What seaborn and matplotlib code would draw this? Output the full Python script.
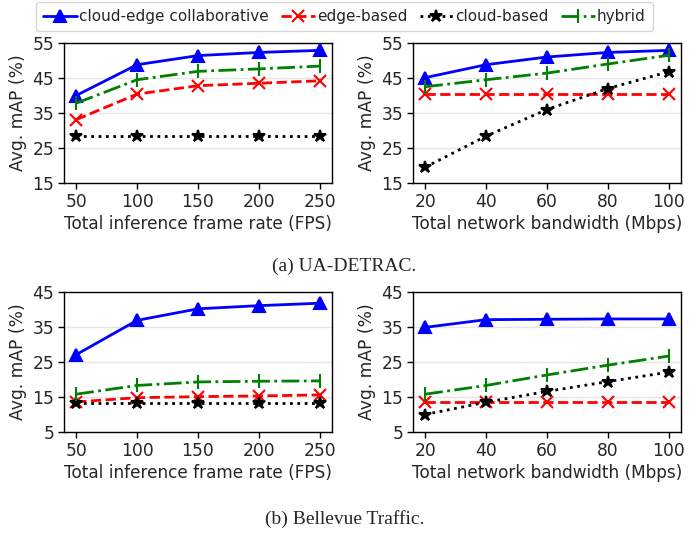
import matplotlib
matplotlib.use("Agg")
import matplotlib.pyplot as plt
import seaborn as sns
import numpy as np

sns.set_style("white")
plt.rcParams['font.family'] = ['DejaVu Sans']

fps = [50, 100, 150, 200, 250]
bw = [20, 40, 60, 80, 100]

labels = ["cloud-edge collaborative", "edge-based", "cloud-based", "hybrid"]

# UA-DETRAC vs frame rate
ua_fps_collab = [40.0, 48.8, 51.4, 52.3, 52.9]
ua_fps_edge = [33.1, 40.4, 42.8, 43.5, 44.2]
ua_fps_cloud = [28.4, 28.4, 28.4, 28.4, 28.4]
ua_fps_hybrid = [37.8, 44.5, 46.9, 47.6, 48.4]

# UA-DETRAC vs bandwidth
ua_bw_collab = [45.1, 48.8, 51.0, 52.3, 52.9]
ua_bw_edge = [40.4, 40.4, 40.4, 40.4, 40.4]
ua_bw_cloud = [19.5, 28.4, 36.0, 42.0, 46.8]
ua_bw_hybrid = [42.5, 44.5, 46.4, 49.0, 51.5]

# Bellevue vs frame rate
bv_fps_collab = [27.1, 36.9, 40.2, 41.1, 41.8]
bv_fps_edge = [13.6, 14.8, 15.1, 15.3, 15.6]
bv_fps_cloud = [13.4, 13.4, 13.4, 13.4, 13.4]
bv_fps_hybrid = [15.8, 18.3, 19.3, 19.5, 19.6]

# Bellevue vs bandwidth
bv_bw_collab = [34.9, 37.1, 37.2, 37.3, 37.3]
bv_bw_edge = [13.5, 13.5, 13.5, 13.5, 13.5]
bv_bw_cloud = [10.0, 13.5, 16.6, 19.4, 22.1]
bv_bw_hybrid = [15.8, 18.3, 21.3, 24.1, 26.7]

styles = [
    dict(color="blue", marker="^", linestyle="-", markersize=9),
    dict(color="red", marker="x", linestyle="--", markersize=9),
    dict(color="black", marker="*", linestyle=":", markersize=9),
    dict(color="green", marker="|", linestyle="-.", markersize=10),
]

fig = plt.figure(figsize=(6.89, 5.33), dpi=100)
W, H = 689, 533
def add_ax(l, t, r, b):
    return fig.add_axes([l / W, 1 - b / H, (r - l) / W, (b - t) / H])

axes = [
    (add_ax(64, 43, 332, 183), fps, [ua_fps_collab, ua_fps_edge, ua_fps_cloud, ua_fps_hybrid],
     "Total inference frame rate (FPS)", (15, 55)),
    (add_ax(413, 43, 681, 183), bw, [ua_bw_collab, ua_bw_edge, ua_bw_cloud, ua_bw_hybrid],
     "Total network bandwidth (Mbps)", (15, 55)),
    (add_ax(64, 292, 332, 432), fps, [bv_fps_collab, bv_fps_edge, bv_fps_cloud, bv_fps_hybrid],
     "Total inference frame rate (FPS)", (5, 45)),
    (add_ax(413, 292, 681, 432), bw, [bv_bw_collab, bv_bw_edge, bv_bw_cloud, bv_bw_hybrid],
     "Total network bandwidth (Mbps)", (5, 45)),
]

for ax, xs, series, xlabel, ylim in axes:
    for lab, ys, st in zip(labels, series, styles):
        sns.lineplot(x=xs, y=ys, ax=ax, label=lab, linewidth=2,
                     color=st["color"], marker=st["marker"], linestyle=st["linestyle"],
                     markersize=st["markersize"], markeredgecolor=st["color"],
                     markerfacecolor=st["color"], markeredgewidth=1.5)
    ax.set_ylim(*ylim)
    ax.set_yticks(np.arange(ylim[0], ylim[1] + 1, 10))
    ax.set_xticks(xs)
    pad = (xs[-1] - xs[0]) * 0.05
    ax.set_xlim(xs[0] - pad, xs[-1] + pad)
    ax.yaxis.grid(True, color="#e5e5e5", linewidth=1)
    ax.set_axisbelow(True)
    for s in ax.spines.values():
        s.set_color("black")
        s.set_linewidth(1)
    ax.tick_params(axis="both", which="major", labelsize=12.3, length=4, width=1,
                   direction="out", left=True, bottom=True, color="black", pad=3)
    ax.set_xlabel(xlabel, fontsize=12.2, labelpad=3)
    ax.set_ylabel("Avg. mAP (%)", fontsize=12.3)
    ax.get_legend().remove()

handles, labs = axes[0][0].get_legend_handles_labels()
fig.legend(handles, labs, loc="upper center", bbox_to_anchor=(0.5, 1.0), ncol=4,
           fontsize=11, frameon=True, handlelength=2.2, handletextpad=0.15,
           columnspacing=0.8, borderpad=0.45, borderaxespad=0.15,
           edgecolor="#cccccc", fancybox=True)

fig.text(0.5, 1 - 266 / H, "(a) UA-DETRAC.", ha="center", va="center",
         fontsize=14, family="Liberation Serif")
fig.text(0.5, 1 - 519 / H, "(b) Bellevue Traffic.", ha="center", va="center",
         fontsize=14, family="Liberation Serif")

fig.savefig("out.png", dpi=100)
